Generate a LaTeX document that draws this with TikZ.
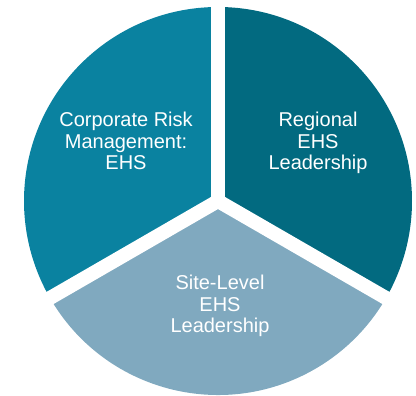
\documentclass[tikz,border=0pt]{standalone}
\usepackage{fontspec}
\setmainfont{Liberation Sans}
\definecolor{cmid}{HTML}{0A82A0}
\definecolor{cdark}{HTML}{026A80}
\definecolor{clight}{HTML}{80A9BF}
\begin{document}
\begin{tikzpicture}[x=1pt,y=1pt,
  lbl/.style={text=white,align=center,font=\fontsize{20}{21.5}\selectfont,inner sep=0pt,anchor=base},
  gap/.style={draw=white,line width=14pt}]
\useasboundingbox (0,0) rectangle (416,396);
\coordinate (C) at (218,195);
\fill[cdark] (C) -- ++(90:194) arc[start angle=90,end angle=-30,radius=194] -- cycle;
\fill[cmid] (C) -- ++(90:194) arc[start angle=90,end angle=210,radius=194] -- cycle;
\fill[clight] (C) -- ++(210:194) arc[start angle=210,end angle=330,radius=194] -- cycle;
\draw[gap] (C) -- ++(90:200);
\draw[gap] (C) -- ++(210:200);
\draw[gap] (C) -- ++(330:200);
\node[lbl] (corp) at (126,226) {Corporate Risk\\Management:\\EHS};
\node[lbl] (reg) at (318,226) {Regional\\EHS\\Leadership};
\node[lbl] (site) at (220,63) {Site-Level\\EHS\\Leadership};
\end{tikzpicture}
\end{document}
